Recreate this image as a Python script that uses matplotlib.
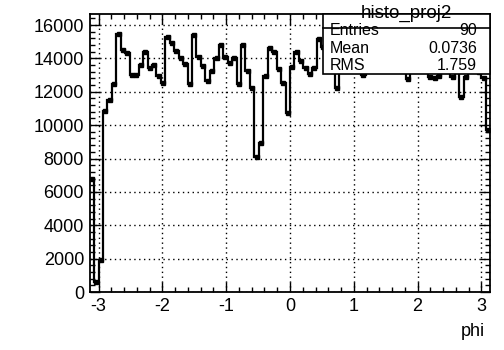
import numpy as np
import matplotlib
matplotlib.use('Agg')
import matplotlib.pyplot as plt
from matplotlib.patches import Rectangle
from matplotlib.ticker import MultipleLocator

plt.rcParams['font.family'] = ['Liberation Sans', 'DejaVu Sans']
plt.rcParams['axes.unicode_minus'] = False

# 90 bins in phi, -pi .. pi (hidden ones guessed)
counts = [
    6800, 620, 1900, 10850, 11500, 12450, 15450, 14500, 14300, 13000,
    13000, 13600, 14400, 13450, 13600, 12950, 12550, 15300, 14900, 14450,
    14000, 13650, 12450, 15400, 14100, 13550, 12650, 13250, 14000, 14800,
    14100, 13700, 14000, 12450, 14800, 13250, 12250, 8100, 8950, 12950,
    14600, 14400, 13350, 12550, 10750, 13500, 14400, 13850, 13450, 13050,
    13400, 15150, 14700, 14200, 13900, 12200, 14500, 15000, 14600, 14100,
    13800, 13000, 14300, 14900, 15200, 14800, 14300, 14000, 13700, 14400,
    13900, 12750, 14800, 15300, 14700, 14000, 12900, 12800, 12950, 14200,
    14600, 12900, 13800, 11700, 12900, 14500, 13900, 13200, 12800, 9700,
]
hist_name = 'histo_proj2'
stat_labels = ['Entries', 'Mean', 'RMS']
stat_values = ['90', '0.0736', '1.759']
x_title = 'phi'


def main():
    edges = np.linspace(-np.pi, np.pi, len(counts) + 1)
    centers = 0.5 * (edges[:-1] + edges[1:])

    fig = plt.figure(figsize=(5.04, 3.5), dpi=100)
    ax = fig.add_axes([0.1778, 0.1657, 0.7952, 0.7943])

    ax.stairs(counts, edges, baseline=None, color='black', lw=1.6, zorder=3)
    ax.plot(centers, counts, 's', color='black', ms=2.5, zorder=3)

    ax.set_xlim(-np.pi, np.pi)
    ax.set_ylim(0, 16660)
    ax.xaxis.set_major_locator(MultipleLocator(1))
    ax.xaxis.set_minor_locator(MultipleLocator(0.2))
    ax.yaxis.set_major_locator(MultipleLocator(2000))
    ax.yaxis.set_minor_locator(MultipleLocator(400))
    ax.tick_params(which='both', direction='in', top=True, right=True,
                   width=1.0, labelsize=13, pad=4)
    ax.tick_params(which='major', length=7)
    ax.tick_params(which='minor', length=3.5)
    ax.grid(True, which='major', color='black', lw=1.0, ls=(0, (1, 2.5)))
    for s in ax.spines.values():
        s.set_linewidth(1.3)

    # stats box
    ax.add_patch(Rectangle((0.582, 0.785), 0.418, 0.215, transform=ax.transAxes,
                           facecolor='white', edgecolor='black', lw=1.2,
                           zorder=5, clip_on=False))
    ax.plot([0.582, 1.0], [0.95, 0.95], transform=ax.transAxes, color='black',
            lw=1.2, zorder=6, clip_on=False)
    ax.text(0.791, 1.002, hist_name, transform=ax.transAxes, ha='center',
            va='center', fontsize=13.5, zorder=7)
    rows = [0.94, 0.877, 0.814]
    for lab, val, yy in zip(stat_labels, stat_values, rows):
        ax.text(0.598, yy, lab, transform=ax.transAxes, ha='left', va='center',
                fontsize=11.5, zorder=7)
        ax.text(0.967, yy, val, transform=ax.transAxes, ha='right',
                va='center', fontsize=11.5, zorder=7)

    fig.text(0.963, 0.028, x_title, ha='right', va='bottom', fontsize=13)

    fig.savefig('out.png', dpi=100)


if __name__ == '__main__':
    main()
